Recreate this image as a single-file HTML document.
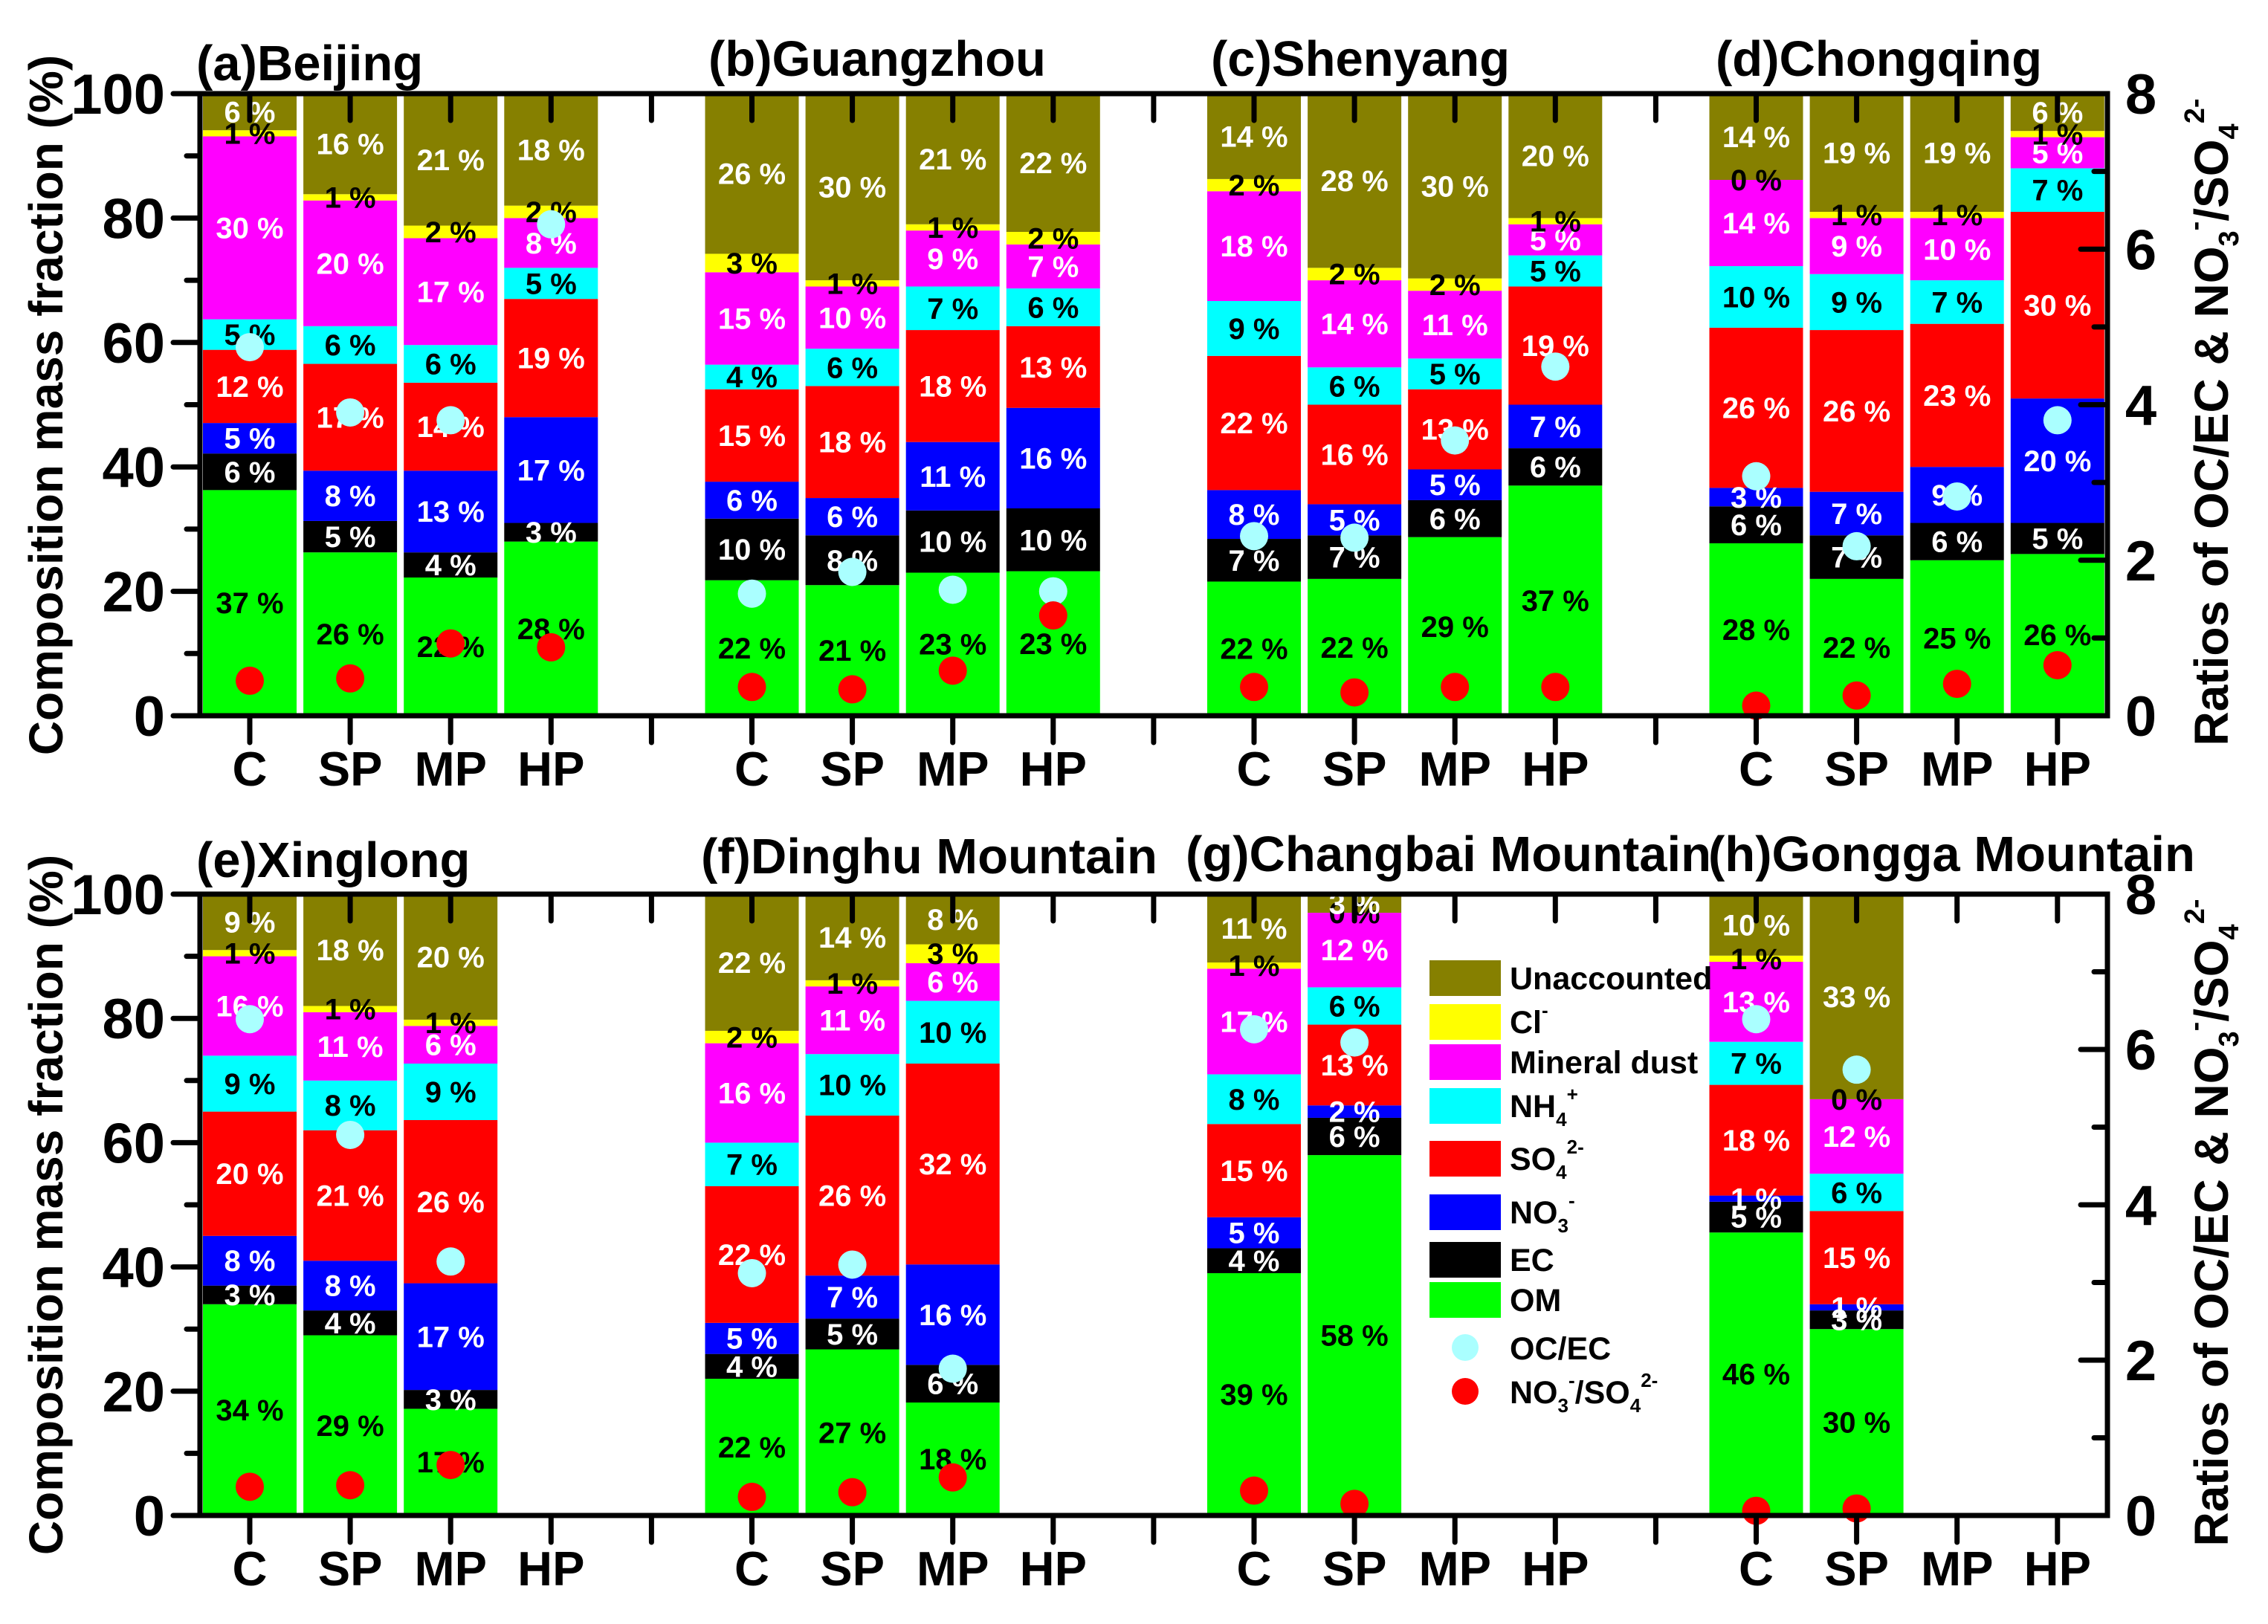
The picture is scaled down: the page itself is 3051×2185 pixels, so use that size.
<!DOCTYPE html>
<html><head><meta charset="utf-8"><style>
html,body{margin:0;padding:0;background:#fff;}
svg{display:block;font-family:"Liberation Sans",Arial,sans-serif;font-weight:bold;}
</style></head><body>
<svg id="chart" xmlns="http://www.w3.org/2000/svg" width="3051" height="2185" viewBox="0 0 3051 2185">
<g id="layer-bars"></g>
<g id="layer-labels"></g>
<g id="layer-dots"></g>
<g id="layer-axes"></g>
<g id="legend">
  <rect x="1923" y="1292" width="96" height="48" fill="#868000"/>
  <text x="2031" y="1331" font-size="43">Unaccounted</text>
  <rect x="1923" y="1351" width="96" height="48" fill="#ffff00"/>
  <text x="2031" y="1390" font-size="43">Cl<tspan font-size="26" dy="-22">-</tspan></text>
  <rect x="1923" y="1405" width="96" height="48" fill="#ff00ff"/>
  <text x="2031" y="1444" font-size="43">Mineral dust</text>
  <rect x="1923" y="1464" width="96" height="48" fill="#00ffff"/>
  <text x="2031" y="1503" font-size="43">NH<tspan font-size="26" dy="12">4</tspan><tspan font-size="26" dy="-34">+</tspan></text>
  <rect x="1923" y="1535" width="96" height="48" fill="#ff0000"/>
  <text x="2031" y="1574" font-size="43">SO<tspan font-size="26" dy="12">4</tspan><tspan font-size="26" dy="-34">2-</tspan></text>
  <rect x="1923" y="1607" width="96" height="48" fill="#0000ff"/>
  <text x="2031" y="1646" font-size="43">NO<tspan font-size="26" dy="12">3</tspan><tspan font-size="26" dy="-34">-</tspan></text>
  <rect x="1923" y="1671" width="96" height="48" fill="#000000"/>
  <text x="2031" y="1710" font-size="43">EC</text>
  <rect x="1923" y="1725" width="96" height="48" fill="#00ff00"/>
  <text x="2031" y="1764" font-size="43">OM</text>
  <ellipse cx="1971" cy="1813" rx="18" ry="18" fill="#aaffff"/>
  <text x="2031" y="1829" font-size="43">OC/EC</text>
  <ellipse cx="1971" cy="1872" rx="18" ry="18" fill="#ff0000"/>
  <text x="2031" y="1888" font-size="43">NO<tspan font-size="26" dy="12">3</tspan><tspan font-size="26" dy="-34">-</tspan><tspan font-size="43" dy="22">/SO</tspan><tspan font-size="26" dy="12">4</tspan><tspan font-size="26" dy="-34">2-</tspan></text>
</g>
<g id="titles">
  <text x="264" y="108" font-size="67">(a)Beijing</text>
  <text x="953" y="102" font-size="67">(b)Guangzhou</text>
  <text x="1629" y="102" font-size="67">(c)Shenyang</text>
  <text x="2308" y="102" font-size="67">(d)Chongqing</text>
  <text x="264" y="1180" font-size="67">(e)Xinglong</text>
  <text x="943" y="1175" font-size="67">(f)Dinghu Mountain</text>
  <text x="1595" y="1172" font-size="67">(g)Changbai Mountain</text>
  <text x="2298" y="1172" font-size="67">(h)Gongga Mountain</text>
  <text transform="translate(84,545) rotate(-90)" text-anchor="middle" font-size="64">Composition mass fraction (%)</text>
  <text transform="translate(84,1621) rotate(-90)" text-anchor="middle" font-size="64">Composition mass fraction (%)</text>
  <text transform="translate(2997,568) rotate(-90)" text-anchor="middle" font-size="64">Ratios of OC/EC &amp; NO<tspan font-size="38" dy="14">3</tspan><tspan font-size="38" dy="-46">-</tspan><tspan font-size="64" dy="32">/SO</tspan><tspan font-size="38" dy="14">4</tspan><tspan font-size="38" dy="-46">2-</tspan></text>
  <text transform="translate(2997,1645) rotate(-90)" text-anchor="middle" font-size="64">Ratios of OC/EC &amp; NO<tspan font-size="38" dy="14">3</tspan><tspan font-size="38" dy="-46">-</tspan><tspan font-size="64" dy="32">/SO</tspan><tspan font-size="38" dy="14">4</tspan><tspan font-size="38" dy="-46">2-</tspan></text>
</g>
</svg>
<script>
// Component order (bottom to top): OM, EC, NO3-, SO4 2-, NH4+, Mineral dust, Cl-, Unaccounted
const components = ['om','ec','no3','so4','nh4','dust','cl','unaccounted'];
const categories = ['C','SP','MP','HP'];
const sites = ['beijing','guangzhou','shenyang','chongqing','xinglong','dinghu','changbai','gongga'];
// percentage labels per season, per site
const beijingComp   = [[37,6,5,12,5,30,1,6],[26,5,8,17,6,20,1,16],[22,4,13,14,6,17,2,21],[28,3,17,19,5,8,2,18]];
const guangzhouComp = [[22,10,6,15,4,15,3,26],[21,8,6,18,6,10,1,30],[23,10,11,18,7,9,1,21],[23,10,16,13,6,7,2,22]];
const shenyangComp  = [[22,7,8,22,9,18,2,14],[22,7,5,16,6,14,2,28],[29,6,5,13,5,11,2,30],[37,6,7,19,5,5,1,20]];
const chongqingComp = [[28,6,3,26,10,14,0,14],[22,7,7,26,9,9,1,19],[25,6,9,23,7,10,1,19],[26,5,20,30,7,5,1,6]];
const xinglongComp  = [[34,3,8,20,9,16,1,9],[29,4,8,21,8,11,1,18],[17,3,17,26,9,6,1,20]];
const dinghuComp    = [[22,4,5,22,7,16,2,22],[27,5,7,26,10,11,1,14],[18,6,16,32,10,6,3,8]];
const changbaiComp  = [[39,4,5,15,8,17,1,11],[58,6,2,13,6,12,0,3]];
const gonggaComp    = [[46,5,1,18,7,13,1,10],[30,3,1,15,6,12,0,33]];
// ratios
const beijingOcEc = [4.74,3.9,3.8,6.32];     const beijingNo3So4 = [0.45,0.48,0.93,0.88];
const guangzhouOcEc = [1.57,1.85,1.62,1.6];  const guangzhouNo3So4 = [0.37,0.34,0.58,1.29];
const shenyangOcEc = [2.31,2.29,3.54,4.49];  const shenyangNo3So4 = [0.37,0.3,0.37,0.37];
const chongqingOcEc = [3.08,2.18,2.82,3.8];  const chongqingNo3So4 = [0.13,0.26,0.41,0.65];
const xinglongOcEc = [6.39,4.9,3.27];        const xinglongNo3So4 = [0.37,0.39,0.65];
const dinghuOcEc = [3.12,3.23,1.89];         const dinghuNo3So4 = [0.24,0.3,0.49];
const changbaiOcEc = [6.26,6.09];            const changbaiNo3So4 = [0.32,0.15];
const gonggaOcEc = [6.39,5.74];              const gonggaNo3So4 = [0.06,0.09];
const leftTicks = [0,20,40,60,80,100];
const rightTicks = [0,2,4,6,8];

const siteComps = [beijingComp,guangzhouComp,shenyangComp,chongqingComp,xinglongComp,dinghuComp,changbaiComp,gonggaComp];
const siteOcEc = [beijingOcEc,guangzhouOcEc,shenyangOcEc,chongqingOcEc,xinglongOcEc,dinghuOcEc,changbaiOcEc,gonggaOcEc];
const siteNo3 = [beijingNo3So4,guangzhouNo3So4,shenyangNo3So4,chongqingNo3So4,xinglongNo3So4,dinghuNo3So4,changbaiNo3So4,gonggaNo3So4];

const NS='http://www.w3.org/2000/svg';
const colors=['#00ff00','#000000','#0000ff','#ff0000','#00ffff','#ff00ff','#ffff00','#868000'];
const textColors=['#000','#fff','#fff','#fff','#000','#fff','#000','#fff'];
const panels=[{top:126,bot:963},{top:1203,bot:2039}];
const X0=269, X1=2835, SLOT0=336, SLOT=135.1, BARW=126;
function xSlot(site,cat){return SLOT0+((site%4)*5+cat)*SLOT;}
function yPct(p,v){const P=panels[p];return P.bot-(v/100)*(P.bot-P.top);}
function yRatio(p,v){const P=panels[p];return P.bot-(v/8)*(P.bot-P.top);}
function mk(tag,attrs,parent){const e=document.createElementNS(NS,tag);for(const k in attrs)e.setAttribute(k,attrs[k]);parent.appendChild(e);return e;}
const gBars=document.getElementById('layer-bars'),gLab=document.getElementById('layer-labels'),gDot=document.getElementById('layer-dots'),gAx=document.getElementById('layer-axes');

siteComps.forEach((comp,s)=>{
  const p=s<4?0:1;
  comp.forEach((vals,c)=>{
    const total=vals.reduce((a,b)=>a+b,0);
    const xc=xSlot(s,c);
    let cum=0;
    vals.forEach((v,k)=>{
      const h=v/total*100;
      const y1=yPct(p,cum),y2=yPct(p,cum+h);
      const r=mk('rect',{x:xc-BARW/2,y:y2,width:BARW,height:Math.max(0,y1-y2),fill:colors[k]},gBars);
      
      
      const t=mk('text',{x:xc,y:(y1+y2)/2+14,'text-anchor':'middle','font-size':40,fill:textColors[k]},gLab);
      t.textContent=v+' %';
      
      
      cum+=h;
    });
  });
  siteOcEc[s].forEach((v,c)=>{
    const e=mk('ellipse',{cx:xSlot(s,c),cy:yRatio(p,v),rx:19,ry:19,fill:'#aaffff'},gDot);
    
    
  });
  siteNo3[s].forEach((v,c)=>{
    const e=mk('ellipse',{cx:xSlot(s,c),cy:yRatio(p,v),rx:19,ry:19,fill:'#ff0000'},gDot);
    
    
  });
});

panels.forEach((P,p)=>{
  const fr=mk('rect',{x:X0,y:P.top,width:X1-X0,height:P.bot-P.top,fill:'none',stroke:'#000','stroke-width':7},gAx);
  
  
  for(let v=0;v<=100;v+=10){
    const y=yPct(p,v);const len=v%20===0?36:18;
    const l=mk('line',{x1:X0-len,x2:X0,y1:y,y2:y,stroke:'#000','stroke-width':7,'stroke-linecap':'round'},gAx);
    
    
  }
  leftTicks.forEach(v=>{
    const t=mk('text',{x:222,y:yPct(p,v)+27,'text-anchor':'end','font-size':76},gAx);
    t.textContent=v;
    
    
  });
  for(let v=0;v<=8;v+=1){
    const y=yRatio(p,v);const len=v%2===0?36:18;
    const l=mk('line',{x1:X1-len,x2:X1,y1:y,y2:y,stroke:'#000','stroke-width':7,'stroke-linecap':'round'},gAx);
    
    
  }
  rightTicks.forEach(v=>{
    const t=mk('text',{x:2880,y:yRatio(p,v)+27,'text-anchor':'middle','font-size':76},gAx);
    t.textContent=v;
    
    
  });
  for(let s=0;s<4;s++){
    categories.forEach((c,ci)=>{
      const x=xSlot(s,ci);
      const a=mk('line',{x1:x,x2:x,y1:P.top,y2:P.top+36,stroke:'#000','stroke-width':7,'stroke-linecap':'round'},gAx);
      
      
      const b=mk('line',{x1:x,x2:x,y1:P.bot,y2:P.bot+36,stroke:'#000','stroke-width':7,'stroke-linecap':'round'},gAx);
      
      
      const t=mk('text',{x:x,y:P.bot+94,'text-anchor':'middle','font-size':65},gAx);
      t.textContent=c;
      
      
    });
    if(s<3){
      const x=xSlot(s,4);
      const a=mk('line',{x1:x,x2:x,y1:P.top,y2:P.top+36,stroke:'#000','stroke-width':7,'stroke-linecap':'round'},gAx);
      
      
      const b=mk('line',{x1:x,x2:x,y1:P.bot,y2:P.bot+36,stroke:'#000','stroke-width':7,'stroke-linecap':'round'},gAx);
      
      
    }
  }
});
</script>
</body></html>
